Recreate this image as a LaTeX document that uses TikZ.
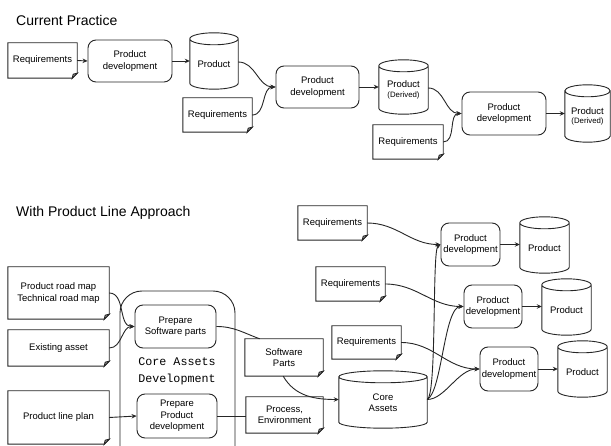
\documentclass[tikz,border=0pt]{standalone}
\usepackage{fontspec}
\setmainfont{Liberation Sans}
\newfontfamily\monofont{Liberation Mono}
\usetikzlibrary{arrows.meta,calc}
\pgfdeclarelayer{bg}
\pgfdeclarelayer{mid}
\pgfsetlayers{bg,mid,main}

% document sheet with a folded lower-right corner, drawn round a named node
\newcommand\paperbox[1]{%
  \draw[edge,fill=white] (#1.north west) -- (#1.north east) -- ([yshift=5pt]#1.south east)
    -- ([xshift=-5pt]#1.south east) -- (#1.south west) -- cycle;
  \draw[edge,fill=black!35] ([xshift=-5pt]#1.south east) -- ([yshift=5pt]#1.south east)
    -- ([xshift=-4pt,yshift=4pt]#1.south east) -- cycle;}

% storage drum: top ellipse centred on the node's north edge
\newcommand\drumbox[1]{%
  \draw[edge,fill=white] let \p1=(#1.north west), \p2=(#1.south east), \n1={(\x2-\x1)/2} in
    (\x1,\y1) -- (\x1,\y2+6pt) arc[start angle=180,end angle=360,x radius={\n1*1pt},y radius=6pt]
    -- (\x2,\y1) arc[start angle=0,end angle=180,x radius={\n1*1pt},y radius=6pt] -- cycle
    (\x1,\y1) arc[start angle=180,end angle=360,x radius={\n1*1pt},y radius=6pt];}

\begin{document}
\begin{tikzpicture}[x=1pt,y=-1pt,
  edge/.style={line width=0.9pt,draw=black!85},
  lbl/.style={font=\fontsize{9.5}{11.5}\selectfont,align=center,inner sep=0pt},
  task/.style={lbl,edge,fill=white,rounded corners=8pt},
  link/.style={edge},
  flow/.style={edge,-{Stealth[length=5pt,width=4.5pt]}},
  heading/.style={font=\fontsize{14}{16}\selectfont,anchor=west,inner sep=0pt}]

\useasboundingbox (0,0) rectangle (611,446);

% ---------------- current practice ----------------
\node[heading] (t1) at (16,20) {Current Practice};

\node[lbl,minimum width=69,minimum height=35] (r1) at (42.5,60.5) {Requirements};
\node[task,minimum width=84,minimum height=42] (pd1) at (130,61) {Product\\development};
\node[lbl,minimum width=48,minimum height=50] (p1) at (214,64) {Product};
\node[lbl,minimum width=69,minimum height=34] (r2) at (217.5,115) {Requirements};
\node[task,minimum width=83,minimum height=42] (pd2) at (317.5,87) {Product\\development};
\node[lbl,minimum width=49,minimum height=48] (pv1) at (403.5,90) {Product\\[-2pt]{\fontsize{7.8}{9}\selectfont(Derived)}};
\node[lbl,minimum width=70,minimum height=34] (r3) at (408,142) {Requirements};
\node[task,minimum width=84,minimum height=43] (pd3) at (504,113.5) {Product\\development};
\node[lbl,minimum width=45,minimum height=51] (pv2) at (587.5,116.5) {Product\\[-2pt]{\fontsize{7.8}{9}\selectfont(Derived)}};

% ---------------- product line approach ----------------
\node[heading] (t2) at (16,213) {With Product Line Approach};

\node[lbl,minimum width=101,minimum height=52] (rm) at (58.5,293) {Product road map\\Technical road map};
\node[lbl,minimum width=101,minimum height=36] (ea) at (58.5,348) {Existing asset};
\node[lbl,minimum width=101,minimum height=53] (plp) at (58.5,417.5) {Product line plan};

\node[task,minimum width=81,minimum height=43] (psw) at (175.5,326.5) {Prepare\\Software parts};
\node[task,minimum width=80,minimum height=44] (ppd) at (177,416) {Prepare\\Product\\development};
\node[font=\monofont\fontsize{11.7}{17}\selectfont,align=center,inner sep=0pt] (cad) at (177,371.5) {Core Assets\\Development};

\node[lbl,minimum width=78,minimum height=37] (swp) at (284,357.5) {Software\\Parts};
\node[lbl,minimum width=77,minimum height=36] (pe) at (284.5,415) {Process,\\Environment};
\node[lbl,minimum width=88,minimum height=51] (ca) at (383,402.5) {Core\\Assets};

\node[lbl,minimum width=69,minimum height=34] (ra) at (332.5,223) {Requirements};
\node[lbl,minimum width=69,minimum height=34] (rb) at (350.5,284) {Requirements};
\node[lbl,minimum width=69,minimum height=33] (rc) at (366.5,342.5) {Requirements};

\node[task,minimum width=59,minimum height=43] (pda) at (470.5,244.5) {Product\\development};
\node[task,minimum width=58,minimum height=43] (pdb) at (493,306.5) {Product\\development};
\node[task,minimum width=58,minimum height=44] (pdc) at (509,369) {Product\\development};

\node[lbl,minimum width=49,minimum height=50] (qa) at (544.5,248) {Product};
\node[lbl,minimum width=49,minimum height=50] (qb) at (566.5,310) {Product};
\node[lbl,minimum width=49,minimum height=50] (qc) at (582.5,372) {Product};

% white page and the container round the two preparation steps
\begin{pgfonlayer}{bg}
  \fill[white] (0,0) rectangle (611,446);
  \draw[edge,rounded corners=22pt] (120,446) -- (120,291) -- (235,291) -- (235,446);
\end{pgfonlayer}

% sheets and drums behind their labels
\begin{pgfonlayer}{mid}
  \paperbox{r1}\paperbox{r2}\paperbox{r3}
  \paperbox{rm}\paperbox{ea}\paperbox{plp}
  \paperbox{swp}\paperbox{pe}
  \paperbox{ra}\paperbox{rb}\paperbox{rc}
  \drumbox{p1}\drumbox{pv1}\drumbox{pv2}
  \drumbox{ca}\drumbox{qa}\drumbox{qb}\drumbox{qc}
\end{pgfonlayer}

% connectors, current practice
\draw[flow] (r1.east) -- (pd1.west);
\draw[flow] (pd1.east) -- (pd1.east -| p1.west);
\draw[flow] ([yshift=2pt]p1.east) to[out=0,in=180] (pd2.west);
\draw[flow] (r2.east) to[out=0,in=180] (pd2.west);
\draw[flow] (pd2.east) -- (pd2.east -| pv1.west);
\draw[flow] ([yshift=2pt]pv1.east) to[out=0,in=180] (pd3.west);
\draw[flow] (r3.east) to[out=0,in=180] (pd3.west);
\draw[flow] (pd3.east) -- (pd3.east -| pv2.west);

% connectors, product line approach
\coordinate (swin) at ($(swp.north west)!0.19!(swp.north east)$);
\coordinate (swout) at ($(swp.south west)!0.49!(swp.south east)$);
\coordinate (cain) at ([yshift=3pt]ca.west);
\coordinate (caout) at ([yshift=3pt]ca.east);

\draw[flow] (rm.east) to[out=0,in=180] (psw.west);
\draw[flow] (ea.east) to[out=0,in=180] (psw.west);
\draw[flow] (plp.east) -- (ppd.west);
\draw[link] (psw.east) to[out=0,in=160] (swin);
\draw[flow] (swout) to[out=-60,in=180] (cain);
\draw[link] (ppd.east) -- (ppd.east -| pe.west);

\draw[flow] (ra.east) to[out=0,in=180] (pda.west);
\draw[flow] (rb.east) to[out=0,in=180] (pdb.west);
\draw[flow] (rc.east) to[out=0,in=180] (pdc.west);
\draw[flow] (caout) .. controls (437,395) and (432,250) .. (pda.west);
\draw[flow] (caout) .. controls (442,392) and (444,306.5) .. (pdb.west);
\draw[flow] (caout) .. controls (445,399.5) and (458,369) .. (pdc.west);

\draw[flow] (pda.east) -- (pda.east -| qa.west);
\draw[flow] (pdb.east) -- (pdb.east -| qb.west);
\draw[flow] (pdc.east) -- (pdc.east -| qc.west);
\end{tikzpicture}
\end{document}
